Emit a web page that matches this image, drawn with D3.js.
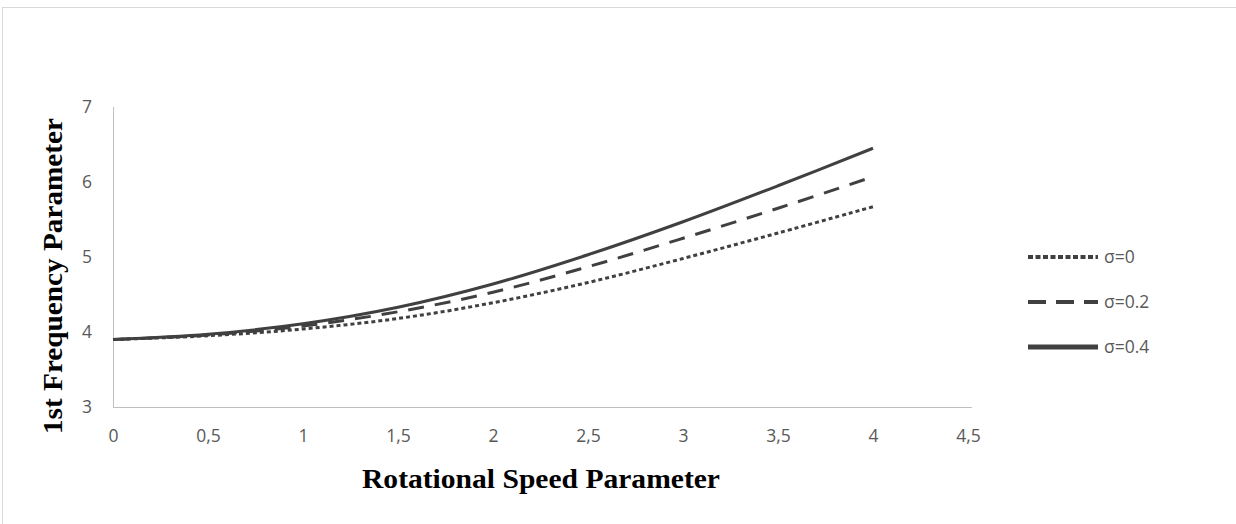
<!DOCTYPE html>
<meta charset="utf-8">
<style>
body { margin: 0; background: #fff; }
.tick text { font-family: "Open Sans", sans-serif; font-size: 17.5px; fill: #595959; }
.axis-title { font-family: "Liberation Serif", "Times New Roman", serif; font-weight: bold; font-size: 27px; fill: #000; }
.legend text { font-family: "Open Sans", sans-serif; font-size: 17.5px; fill: #595959; }
</style>
<svg width="1236" height="524"></svg>
<script src="https://d3js.org/d3.v7.min.js"></script>
<script>

// rotational speed parameter
var speed = [0, 0.5, 1, 1.5, 2, 2.5, 3, 3.5, 4];

// 1st frequency parameter for each sigma
var sigma0  = [3.9, 3.95, 4.04, 4.18, 4.39, 4.66, 4.98, 5.32, 5.67];
var sigma02 = [3.9, 3.96, 4.08, 4.27, 4.53, 4.87, 5.25, 5.65, 6.07];
var sigma04 = [3.9, 3.97, 4.11, 4.33, 4.64, 5.03, 5.47, 5.95, 6.45];

var seriesNames = ["σ=0", "σ=0.2", "σ=0.4"];
var xTicks = [0, 0.5, 1, 1.5, 2, 2.5, 3, 3.5, 4, 4.5];
var yTicks = [3, 4, 5, 6, 7];

var series = [
  {name: seriesNames[0], values: sigma0,  dash: "4,3"},
  {name: seriesNames[1], values: sigma02, dash: "16,11"},
  {name: seriesNames[2], values: sigma04, dash: null}
];

var svg = d3.select("svg");

// outer chart frame
svg.append("rect")
    .attr("x", 2.5).attr("y", 7.5)
    .attr("width", 1250).attr("height", 540)
    .attr("fill", "none")
    .attr("stroke", "#d9d9d9");

var x = d3.scaleLinear().domain([0, 4.5]).range([113, 968]);
var y = d3.scaleLinear().domain([3, 7]).range([407, 107]);

var fmt = function(d) { return String(d).replace(".", ","); };

var xAxis = svg.append("g")
    .attr("transform", "translate(0,407)")
    .call(d3.axisBottom(x).tickValues(xTicks).tickSize(0).tickPadding(23).tickFormat(fmt));
xAxis.select(".domain").attr("stroke", "#bfbfbf").attr("d", "M113.5,0.5H972");

var yAxis = svg.append("g")
    .attr("transform", "translate(113,0)")
    .call(d3.axisLeft(y).tickValues(yTicks).tickSize(0).tickPadding(21).tickFormat(d3.format("d")));
yAxis.select(".domain").attr("stroke", "#bfbfbf").attr("d", "M0.5,107V407.5");

var line = d3.line()
    .x(function(d, i) { return x(speed[i]); })
    .y(function(d) { return y(d); })
    .curve(d3.curveCatmullRom.alpha(0.5));

svg.append("g")
  .selectAll("path")
  .data(series)
  .enter().append("path")
    .attr("d", function(d) { return line(d.values); })
    .attr("fill", "none")
    .attr("stroke", "#404040")
    .attr("stroke-width", 3)
    .attr("stroke-dasharray", function(d) { return d.dash; });

// legend
var legend = svg.append("g").attr("class", "legend")
  .selectAll("g")
  .data(series)
  .enter().append("g")
    .attr("transform", function(d, i) { return "translate(1028," + [257, 302, 347][i] + ")"; });

legend.append("line")
    .attr("x1", 0).attr("x2", 70)
    .attr("stroke", "#404040")
    .attr("stroke-width", function(d) { return d.dash ? 4 : 5; })
    .attr("stroke-dasharray", function(d) { return d.dash ? (d.dash === "4,3" ? "5,2.5" : "18,10") : null; });

legend.append("text")
    .attr("x", 76).attr("dy", "0.35em")
    .text(function(d) { return d.name; });

// axis titles
svg.append("text")
    .attr("class", "axis-title")
    .attr("x", 541).attr("y", 488)
    .attr("text-anchor", "middle")
    .attr("textLength", 358)
    .attr("lengthAdjust", "spacingAndGlyphs")
    .text("Rotational Speed Parameter");

svg.append("text")
    .attr("class", "axis-title")
    .attr("transform", "translate(62,276) rotate(-90)")
    .attr("text-anchor", "middle")
    .attr("textLength", 316)
    .attr("lengthAdjust", "spacingAndGlyphs")
    .text("1st Frequency Parameter");

</script>
